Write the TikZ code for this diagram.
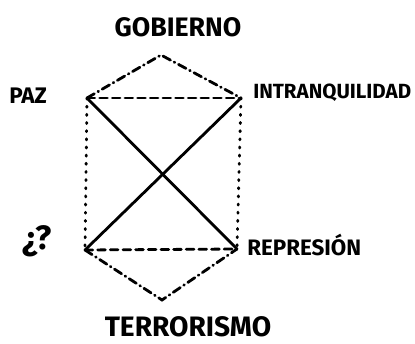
\documentclass[tikz,border=0pt]{standalone}
\usepackage{fontspec}
\setmainfont{Fira Sans}
\usepackage{tikz}

\begin{document}
\begin{tikzpicture}[x=0.025cm, y=-0.025cm]

% Stili delle linee
\tikzset{
  lato/.style={line width=2pt, line cap=round},
  latoTratt/.style={lato, dash pattern=on 5.5pt off 3.5pt},
  latoPunto/.style={lato, dash pattern=on 0.8pt off 5pt},
  latoTrattPunto/.style={lato, dash pattern=on 6pt off 3pt on 0.5pt off 3pt},
  etichetta/.style={inner sep=0pt}
}

% Riquadro
\useasboundingbox (0,0) rectangle (415,343);

% Vertici
\coordinate (vTop)  at (161,55);
\coordinate (vPaz)  at (87,98);
\coordinate (vIntr) at (241,98);
\coordinate (vPreg) at (85,250);
\coordinate (vRepr) at (237,249);
\coordinate (vBot)  at (162,300);

% Etichette
\node[etichetta, font=\fontsize{19}{19}\bfseries] (gob) at (178,27) {GOBIERNO};
\node[etichetta, font=\fontsize{16}{16}\bfseries, anchor=west] (paz) at (9,96) {PAZ};
\node[etichetta, font=\fontsize{14.6}{14.6}\bfseries, anchor=west] (intr) at (253,93) {INTRANQUILIDAD};
\node[etichetta, font=\fontsize{24}{24}\bfseries] (preg) at (37,241) {¿?};
\node[etichetta, font=\fontsize{15.9}{15.9}\bfseries, anchor=west] (repr) at (247,245) {REPRESIÓN};
\node[etichetta, font=\fontsize{20}{20}\bfseries] (terr) at (188,327) {TERRORISMO};

% Rombo superiore e inferiore
\draw[latoTrattPunto] (vPaz) -- (vTop) -- (vIntr);
\draw[latoTrattPunto] (vPreg) -- (vBot) -- (vRepr);

% Orizzontali
\draw[latoTratt] (vPaz) -- (vIntr);
\draw[latoTratt] (vPreg) -- (vRepr);

% Verticali
\draw[latoPunto] (vPaz) -- (vPreg);
\draw[latoPunto] (vIntr) -- (vRepr);

% Diagonali
\draw[lato] (vPaz) -- (vRepr);
\draw[lato] (vPreg) -- (vIntr);

\end{tikzpicture}
\end{document}
